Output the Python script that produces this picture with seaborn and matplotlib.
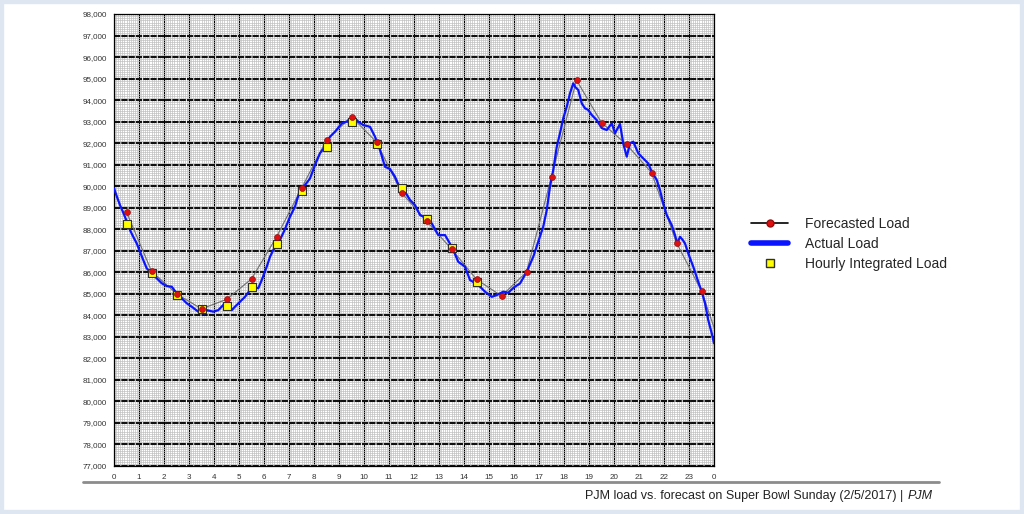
import numpy as np
import pandas as pd
import seaborn as sns
import matplotlib.pyplot as plt
from matplotlib.lines import Line2D
from matplotlib.patches import Rectangle

# Actual load (MW)
actual_hour = [
    0.00, 0.12, 0.24, 0.36, 0.50, 0.64, 0.77, 0.91, 1.04, 1.17, 1.31, 1.51, 1.71, 1.91,
    2.11, 2.31, 2.51, 2.71, 2.91, 3.11, 3.37, 3.50, 3.64, 3.71, 3.97, 4.17, 4.37, 4.51,
    4.71, 4.84, 5.04, 5.24, 5.44, 5.64, 5.77, 5.91, 6.11, 6.24, 6.37, 6.57, 6.80, 7.04,
    7.24, 7.44, 7.64, 7.84, 8.04, 8.24, 8.44, 8.64, 8.84, 9.11, 9.31, 9.57, 9.77, 9.97,
    10.24, 10.44, 10.64, 10.84, 11.04, 11.24, 11.44, 11.64, 11.84, 12.04, 12.24, 12.51,
    12.71, 12.97, 13.24, 13.51, 13.77, 14.04, 14.24, 14.57, 14.84, 15.11, 15.31, 15.57,
    15.77, 16.00, 16.24, 16.51, 16.77, 16.97, 17.17, 17.31, 17.44, 17.57, 17.71, 17.84,
    17.97, 18.11, 18.24, 18.37, 18.44, 18.57, 18.71, 18.84, 18.97, 19.11, 19.31, 19.51,
    19.71, 19.91, 20.04, 20.24, 20.37, 20.51, 20.64, 20.77, 20.97, 21.17, 21.37, 21.51,
    21.71, 21.84, 21.97, 22.11, 22.31, 22.44, 22.53, 22.64, 22.75, 22.84, 22.97, 23.17,
    23.37, 23.51, 23.64, 23.77, 23.91, 24.00,
]
actual_mw = [
    89900, 89500, 89120, 88800, 88400, 87960, 87650, 87340, 86950, 86570, 86180, 85950, 85720, 85490,
    85360, 85330, 85020, 84790, 84560, 84400, 84170, 84110, 84090, 84240, 84170, 84240, 84480, 84560,
    84240, 84400, 84630, 84860, 85170, 85330, 85250, 85640, 86260, 86720, 87030, 87340, 87900, 88580,
    89050, 89820, 90050, 90360, 90980, 91530, 91830, 92300, 92530, 92920, 93000, 93230, 93000, 92840,
    92760, 92300, 91680, 90900, 90800, 90440, 89900, 89740, 89360, 89120, 88660, 88510,
    88270, 87730, 87730, 87190, 86490, 86260, 85640, 85410, 85100, 84860, 84940, 85100,
    85050, 85300, 85480, 86020, 86720, 87420, 88120, 88890, 89980, 90750, 91830, 92460,
    93150, 93690, 94310, 94780, 94620, 94470, 93850, 93620, 93540, 93310, 93070, 92700,
    92610, 92920, 92460, 92890, 91990, 91370, 91990, 92070, 91530, 91290, 91060, 90670,
    90290, 89820, 89200, 88660, 88190, 87730, 87340, 87650, 87500, 87340, 86880, 86260,
    85560, 85100, 84560, 83780, 83160, 82700,
]

# Forecasted load at the half hours
forecast_hour = [h + 0.5 for h in range(25)]
forecast_mw = [
    88800, 86050, 85000, 84300, 84740, 85690, 87640, 89900, 92150, 93230, 92050, 89700,
    88380, 87080, 85670, 84900, 86010, 90440, 94930, 92950, 91940, 90630, 87370, 85130,
    81750,
]

# Hourly integrated load (only up to 14:30)
hourly_hour = [h + 0.5 for h in range(15)]
hourly_mw = [
    88240, 85980, 84940, 84280, 84450, 85310, 87310, 89760, 91830, 92970, 91960, 89930,
    88490, 87110, 85550,
]

x_labels = [str(h) for h in range(24)] + ["0"]

W, H = 1024, 514


def px(x, y):
    """Pixel position (from top-left) to figure fraction."""
    return x / W, 1 - y / H


def main():
    sns.set_style("white")
    plt.rcParams["font.family"] = ["Liberation Sans", "DejaVu Sans"]

    fig = plt.figure(figsize=(W / 100, H / 100), dpi=100)
    fig.patch.set_facecolor("white")
    ax = fig.add_axes([114 / W, 1 - 466 / H, 600 / W, 452 / H])

    actual = pd.DataFrame({"hour": actual_hour, "mw": actual_mw})
    forecast = pd.DataFrame({"hour": forecast_hour, "mw": forecast_mw})
    hourly = pd.DataFrame({"hour": hourly_hour, "mw": hourly_mw})

    sns.lineplot(data=forecast, x="hour", y="mw", ax=ax, color="#707070",
                 lw=0.8, zorder=3, estimator=None)
    sns.lineplot(data=actual, x="hour", y="mw", ax=ax, color="#0a14ff",
                 lw=1.6, zorder=4, estimator=None)
    sns.scatterplot(data=hourly, x="hour", y="mw", ax=ax, marker="s", s=30,
                    color="#ffff00", edgecolor="#303030", linewidth=0.8, zorder=5)
    sns.scatterplot(data=forecast, x="hour", y="mw", ax=ax, marker="o", s=18,
                    color="#e01010", edgecolor="#901010", linewidth=0.5, zorder=6)

    ax.set_xlim(0, 24)
    ax.set_ylim(77000, 98000)
    ax.set_xticks(range(25))
    ax.set_xticks(np.arange(0, 24, 1 / 12), minor=True)
    ax.set_xticklabels(x_labels)
    ax.set_yticks(range(77000, 98001, 1000))
    ax.set_yticks(range(77000, 98000, 100), minor=True)
    ax.set_yticklabels([f"{v:,}" for v in range(77000, 98001, 1000)])

    ax.grid(which="minor", color="#c0c0c0", lw=0.5)
    ax.grid(which="major", axis="x", color="black", lw=0.9)
    ax.grid(which="major", axis="y", color="#111111", lw=1.5, ls=(0, (3, 0.5)))
    ax.set_axisbelow(True)

    ax.tick_params(axis="both", which="major", labelsize=5.8, colors="#333333",
                   length=3, width=0.8, pad=2, direction="out")
    ax.tick_params(which="minor", length=0)
    ax.tick_params(axis="x", pad=2.5)
    for s in ax.spines.values():
        s.set_color("black")
        s.set_linewidth(0.9)
    ax.set_xlabel("")
    ax.set_ylabel("")

    handles = [
        Line2D([], [], color="black", lw=1.2, marker="o", markersize=5,
               markerfacecolor="#e01010", markeredgecolor="#901010"),
        Line2D([], [], color="#0a14ff", lw=4),
        Line2D([], [], ls="none", marker="s", markersize=5.5,
               markerfacecolor="#ffff00", markeredgecolor="#303030"),
    ]
    labels = ["Forecasted Load", "Actual Load", "Hourly Integrated Load"]
    fig.legend(handles, labels, loc="center left", bbox_to_anchor=px(744, 244),
               frameon=False, fontsize=10, handlelength=2.7, handletextpad=1.2,
               labelspacing=0.42, borderpad=0)

    # caption and separator
    fig.add_artist(Line2D([83 / W, 939 / W], [1 - 482 / H] * 2, color="#8c8c8c", lw=2))
    fig.text(*px(907, 496), "PJM load vs. forecast on Super Bowl Sunday (2/5/2017) | ",
             ha="right", va="center", fontsize=9, color="#222222")
    fig.text(*px(908, 496), "PJM", ha="left", va="center", fontsize=9,
             style="italic", color="#222222")

    # light frame round the picture
    fig.add_artist(Rectangle((0, 0), 1, 1, transform=fig.transFigure, fill=False,
                             edgecolor="#dde6f1", lw=6))

    fig.savefig("out.png", dpi=100)
    plt.close(fig)


if __name__ == "__main__":
    main()
